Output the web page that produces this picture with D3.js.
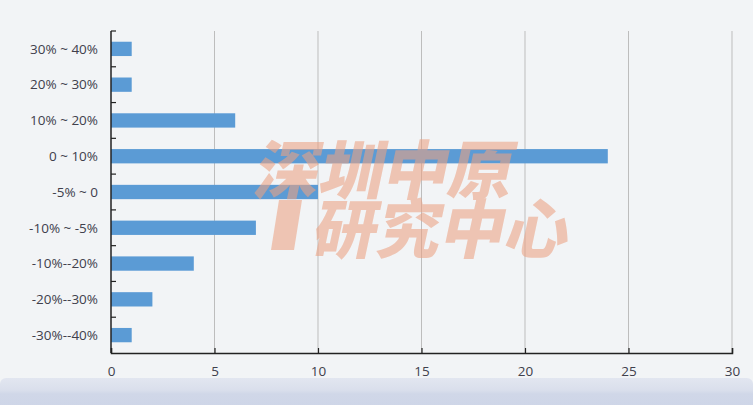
<!DOCTYPE html>
<html>
<head>
<meta charset="utf-8">
<script src="https://cdn.jsdelivr.net/npm/d3@7"></script>
<style>
  body { margin: 0; background: #f2f4f6; }
  svg { display: block; }
</style>
</head>
<body>
<div id="chart"></div>
<script>
// data
var categories = ["30% ~ 40%", "20% ~ 30%", "10% ~ 20%", "0 ~ 10%", "-5% ~ 0",
                  "-10% ~ -5%", "-10%--20%", "-20%--30%", "-30%--40%"];
var counts = [1, 1, 6, 24, 10, 7, 4, 2, 1];
var xTicks = [0, 5, 10, 15, 20, 25, 30];
var watermark = ["深圳中原", "研究中心"];

var width = 753, height = 405;
var plotLeft = 111, plotRight = 732, plotTop = 31, plotBottom = 353;

var svg = d3.select("#chart").append("svg")
    .attr("width", width)
    .attr("height", height);

svg.append("rect").attr("width", width).attr("height", height).attr("fill", "#f2f4f6");

// bottom band
var grad = svg.append("defs").append("linearGradient")
    .attr("id", "band").attr("x1", 0).attr("y1", 0).attr("x2", 0).attr("y2", 1);
grad.append("stop").attr("offset", "0%").attr("stop-color", "#e2e6f0");
grad.append("stop").attr("offset", "30%").attr("stop-color", "#dadfec");
grad.append("stop").attr("offset", "40%").attr("stop-color", "#d0d7e8");
grad.append("stop").attr("offset", "100%").attr("stop-color", "#ccd4e7");
svg.append("rect")
    .attr("x", 0).attr("y", 378).attr("width", width).attr("height", 40)
    .attr("rx", 6)
    .attr("fill", "url(#band)");

var x = d3.scaleLinear().domain([0, 30]).range([plotLeft, plotRight]);
var y = d3.scaleBand().domain(categories).range([plotTop, plotBottom]).paddingInner(0.6).paddingOuter(0.3);

// grid lines
svg.append("g").selectAll("line")
  .data(xTicks.slice(1))
  .enter().append("line")
    .attr("x1", function(d) { return x(d); })
    .attr("x2", function(d) { return x(d); })
    .attr("y1", plotTop)
    .attr("y2", plotBottom)
    .attr("stroke", "#bdbdbd")
    .attr("stroke-width", 1);

// bars
svg.append("g").selectAll("rect")
  .data(counts)
  .enter().append("rect")
    .attr("x", x(0))
    .attr("y", function(d, i) { return y(categories[i]); })
    .attr("width", function(d) { return x(d) - x(0); })
    .attr("height", y.bandwidth())
    .attr("fill", "#5b9bd5");

// x axis, ticks pointing inward
var xAxis = svg.append("g")
    .attr("transform", "translate(0," + plotBottom + ")")
    .call(d3.axisBottom(x).tickValues(xTicks).tickSize(-5).tickPadding(13));
xAxis.select(".domain").attr("stroke", "#222").attr("stroke-width", 1.5);
xAxis.selectAll(".tick line").attr("stroke", "#222").attr("stroke-width", 1.2);

// y axis: ticks between categories
var yPos = d3.scaleLinear().domain([0, categories.length]).range([plotTop, plotBottom]);
var yAxis = svg.append("g").attr("transform", "translate(" + plotLeft + ",0)");
yAxis.append("line")
    .attr("x1", 0).attr("x2", 0).attr("y1", plotTop).attr("y2", plotBottom)
    .attr("stroke", "#222").attr("stroke-width", 1.5);
yAxis.selectAll(".tk")
  .data(d3.range(0, categories.length))
  .enter().append("line")
    .attr("x1", 0).attr("x2", 5)
    .attr("y1", function(d) { return yPos(d); })
    .attr("y2", function(d) { return yPos(d); })
    .attr("stroke", "#222").attr("stroke-width", 1.2);
yAxis.selectAll("text")
  .data(categories)
  .enter().append("text")
    .attr("x", -13)
    .attr("y", function(d) { return y(d) + y.bandwidth() / 2; })
    .attr("dy", "0.35em")
    .attr("text-anchor", "end")
    .text(function(d) { return d; });

svg.selectAll("text")
    .attr("font-family", "'Open Sans', 'Noto Sans', sans-serif")
    .attr("font-size", 13.5)
    .attr("fill", "#40404c");

// watermark over the bars
var wm = svg.append("g")
    .attr("opacity", 0.58)
    .attr("fill", "#eca283")
    .attr("font-family", "'Noto Sans CJK SC'")
    .attr("font-weight", 900);
wm.append("text")
    .attr("transform", "translate(252,194) skewX(-12)")
    .attr("font-size", 64)
    .attr("textLength", 258)
    .attr("lengthAdjust", "spacingAndGlyphs")
    .text(watermark[0]);
wm.append("text")
    .attr("transform", "translate(310,253) skewX(-12)")
    .attr("font-size", 64)
    .attr("textLength", 256)
    .attr("lengthAdjust", "spacingAndGlyphs")
    .text(watermark[1]);
wm.append("path")
    .attr("d", "M279,200 L302,200 L294,250 L271,250 Z");
</script>
</body>
</html>
